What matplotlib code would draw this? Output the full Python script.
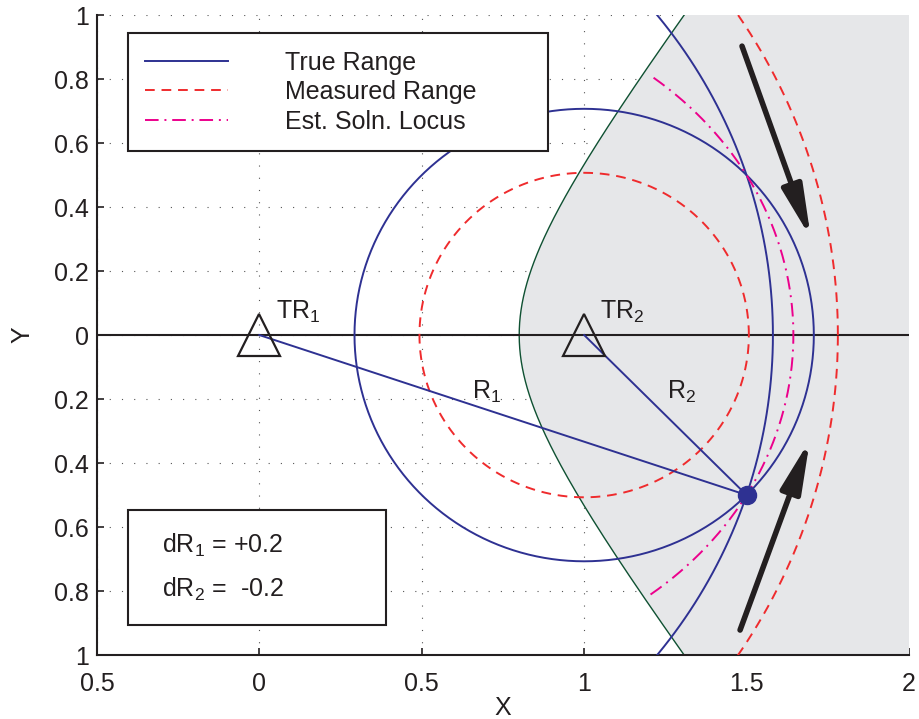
import numpy as np
import matplotlib.pyplot as plt
from matplotlib.patches import Rectangle

plt.rcParams['font.family'] = ['Liberation Sans', 'DejaVu Sans']
plt.rcParams['mathtext.fontset'] = 'custom'
plt.rcParams['mathtext.rm'] = 'Liberation Sans'
plt.rcParams['mathtext.it'] = 'Liberation Sans'

# transmitter/receiver sites and target
tr_x = [0.0, 1.0]
tr_y = [0.0, 0.0]
target = (1.5, -0.5)
range_err = [0.2, -0.2]        # dR1, dR2
hyp_diff = 0.6                 # R1 - R2 on boundary hyperbola
locus_xmin = 1.2               # start of drawn locus segment

# arrows showing direction of estimate motion (tail, head)
arrows = [((1.486, 0.903), (1.698, 0.303)),
          ((1.480, -0.922), (1.695, -0.328))]

xticks = [-0.5, 0, 0.5, 1, 1.5, 2]
xticklabels = ['0.5', '0', '0.5', '1', '1.5', '2']
yticks = [1, 0.8, 0.6, 0.4, 0.2, 0, -0.2, -0.4, -0.6, -0.8, -1]
yticklabels = ['1', '0.8', '0.6', '0.4', '0.2', '0', '0.2', '0.4', '0.6', '0.8', '1']

BLUE = '#2e3192'
RED = '#ef2b2d'
MAG = '#ec008c'
GREEN = '#0f5132'
INK = '#231f20'

true_r = [np.hypot(target[0] - x, target[1] - y) for x, y in zip(tr_x, tr_y)]
meas_r = [r + d for r, d in zip(true_r, range_err)]

fig = plt.figure(figsize=(9.2, 7.19), dpi=100)
ax = fig.add_axes([0.1054, 0.089, 0.8826, 0.890])

t = np.linspace(0, 2 * np.pi, 721)

# shaded region right of the hyperbola R1 - R2 = const
c = (tr_x[1] - tr_x[0]) / 2
xc = (tr_x[0] + tr_x[1]) / 2
a = hyp_diff / 2
b = np.sqrt(c**2 - a**2)
u = np.linspace(-2.5, 2.5, 600)
hx = xc + a * np.cosh(u)
hy = b * np.sinh(u)
ax.fill_betweenx(hy, hx, 2.02, color='#e6e7e9', lw=0, zorder=1)
ax.plot(hx, hy, color=GREEN, lw=1.0, zorder=2)

# range circles
for i in range(2):
    ax.plot(tr_x[i] + true_r[i] * np.cos(t), tr_y[i] + true_r[i] * np.sin(t),
            color=BLUE, lw=1.4, zorder=3, label='True Range' if i == 0 else None)
for i in range(2):
    ax.plot(tr_x[i] + meas_r[i] * np.cos(t), tr_y[i] + meas_r[i] * np.sin(t),
            color=RED, lw=1.4, ls=(0, (5, 3.5)), zorder=3,
            label='Measured Range' if i == 0 else None)

# estimated-solution locus: ellipse R1 + R2 = const
s = sum(meas_r)
ea = s / 2
eb = np.sqrt(ea**2 - c**2)
tt = np.linspace(-np.pi, np.pi, 721)
ex = xc + ea * np.cos(tt)
ey = eb * np.sin(tt)
keep = ex >= locus_xmin
ax.plot(ex[keep], ey[keep], color=MAG, lw=1.4,
        ls=(0, (7, 3, 1, 3)), zorder=3, label='Est. Soln. Locus')

# baseline and range vectors
ax.axhline(0, color=INK, lw=1.5, zorder=2)
for x, y in zip(tr_x, tr_y):
    ax.plot([x, target[0]], [y, target[1]], color=BLUE, lw=1.4, zorder=3)
ax.plot(tr_x, tr_y, ls='none', marker='^', ms=30, mfc='none', mec=INK, mew=1.6, zorder=5)
ax.plot(*target, marker='o', ms=13, color=BLUE, zorder=5)

for (x0, y0), (x1, y1) in arrows:
    ax.annotate('', xy=(x1, y1), xytext=(x0, y0), zorder=6,
                arrowprops=dict(arrowstyle='-|>,head_length=1.4,head_width=0.28',
                                lw=4, color=INK, mutation_scale=22, shrinkA=0, shrinkB=0))

fs = 18
ax.text(tr_x[0] + 0.05, 0.05, 'TR$_1$', fontsize=fs, color=INK, zorder=6)
ax.text(tr_x[1] + 0.05, 0.05, 'TR$_2$', fontsize=fs, color=INK, zorder=6)
ax.text(0.655, -0.2, 'R$_1$', fontsize=fs, color=INK, zorder=6)
ax.text(1.255, -0.2, 'R$_2$', fontsize=fs, color=INK, zorder=6)

# error annotation box
ax.add_patch(Rectangle((0.038, 0.047), 0.318, 0.180, transform=ax.transAxes,
                       fc='white', ec=INK, lw=1.5, zorder=7))
ax.text(0.08, 0.172, 'dR$_1$ = +%.1f' % range_err[0], transform=ax.transAxes,
        fontsize=fs, color=INK, va='center', zorder=8)
ax.text(0.08, 0.102, 'dR$_2$ =  %.1f' % range_err[1], transform=ax.transAxes,
        fontsize=fs, color=INK, va='center', zorder=8)

leg = ax.legend(loc='upper left', bbox_to_anchor=(0.038, 0.786, 0.517, 0.186),
                mode='expand', fontsize=fs, frameon=True, fancybox=False,
                edgecolor=INK, framealpha=1, borderaxespad=0, borderpad=0.7,
                labelspacing=0.22, handlelength=3.3, handletextpad=2.3,
                handleheight=0.7)
leg.get_frame().set_linewidth(1.5)
leg.set_zorder(9)
for txt in leg.get_texts():
    txt.set_color(INK)

ax.set_xlim(-0.5, 2)
ax.set_ylim(-1, 1)
ax.set_xticks(xticks)
ax.set_xticklabels(xticklabels)
ax.set_yticks(yticks)
ax.set_yticklabels(yticklabels)
ax.tick_params(direction='in', length=5, width=1.2, labelsize=fs, colors=INK, pad=6)
ax.tick_params(axis='x', pad=12)
ax.grid(True, color='#555555', lw=0.8, ls=(0, (1, 10)))
ax.set_axisbelow(True)
for side in ['top', 'right']:
    ax.spines[side].set_visible(False)
for side in ['left', 'bottom']:
    ax.spines[side].set_linewidth(1.5)
    ax.spines[side].set_color(INK)
ax.set_xlabel('X', fontsize=fs, color=INK, labelpad=0)
ax.set_ylabel('Y', fontsize=fs, color=INK, labelpad=14)

fig.savefig('out.png', dpi=100)
